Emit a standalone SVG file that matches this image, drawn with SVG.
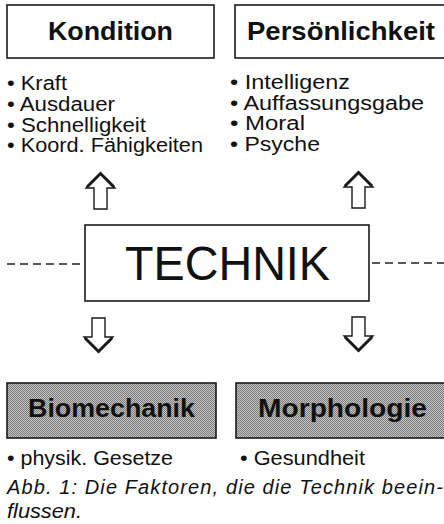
<svg xmlns="http://www.w3.org/2000/svg" width="444" height="524" viewBox="0 0 444 524">
<defs>
<pattern id="dots" width="2" height="2" patternUnits="userSpaceOnUse">
<rect width="2" height="2" fill="#c4c4c4"/>
<rect width="1" height="1" fill="#7c7c7c"/>
<rect x="1" y="1" width="1" height="1" fill="#7c7c7c"/>
</pattern>
</defs>
<style>
.box{fill:#fff;stroke:#1a1a1a;stroke-width:1.6}
.gbox{fill:url(#dots);stroke:#1a1a1a;stroke-width:1.6}
.head{font-family:"Liberation Sans",Arial,sans-serif;font-weight:bold;font-size:25px;fill:#111;text-anchor:middle}
.item{font-family:"Liberation Sans",Arial,sans-serif;font-size:20px;fill:#111}
.big{font-family:"Liberation Sans",Arial,sans-serif;font-size:49px;fill:#111;text-anchor:middle}
.cap{font-family:"Liberation Sans",Arial,sans-serif;font-style:italic;font-size:20px;fill:#111}
.arrow{fill:#fff;stroke:#1a1a1a;stroke-width:1.4;stroke-linejoin:miter}
.thick{fill:none;stroke:#1a1a1a;stroke-width:3}
.dash{stroke:#222;stroke-width:1.5;stroke-dasharray:8 5;fill:none}
</style>
<rect width="444" height="524" fill="#fff"/>

<g id="kondition">
<rect class="box" x="7" y="5" width="207" height="53"/>
<text class="head" x="110.5" y="40" textLength="125" lengthAdjust="spacingAndGlyphs">Kondition</text>
<text class="item" x="7" y="90" textLength="60" lengthAdjust="spacingAndGlyphs">• Kraft</text>
<text class="item" x="7" y="111" textLength="108" lengthAdjust="spacingAndGlyphs">• Ausdauer</text>
<text class="item" x="7" y="131.5" textLength="139" lengthAdjust="spacingAndGlyphs">• Schnelligkeit</text>
<text class="item" x="7" y="152" textLength="196" lengthAdjust="spacingAndGlyphs">• Koord. Fähigkeiten</text>
</g>

<g id="persoenlichkeit">
<rect class="box" x="235" y="5" width="215" height="53"/>
<text class="head" x="341" y="40" textLength="188" lengthAdjust="spacingAndGlyphs">Persönlichkeit</text>
<text class="item" x="230" y="89" textLength="120" lengthAdjust="spacingAndGlyphs">• Intelligenz</text>
<text class="item" x="230" y="109.5" textLength="194" lengthAdjust="spacingAndGlyphs">• Auffassungsgabe</text>
<text class="item" x="230" y="130" textLength="75" lengthAdjust="spacingAndGlyphs">• Moral</text>
<text class="item" x="230" y="150.5" textLength="90" lengthAdjust="spacingAndGlyphs">• Psyche</text>
</g>

<g id="technik">
<rect class="box" x="85" y="225" width="284" height="76"/>
<text class="big" x="227.5" y="280" textLength="205" lengthAdjust="spacingAndGlyphs">TECHNIK</text>
</g>

<g id="biomechanik">
<rect class="gbox" x="7" y="383" width="209" height="55"/>
<text class="head" x="111.5" y="417" textLength="167" lengthAdjust="spacingAndGlyphs">Biomechanik</text>
<text class="item" x="7" y="465" textLength="166" lengthAdjust="spacingAndGlyphs">• physik. Gesetze</text>
</g>

<g id="morphologie">
<rect class="gbox" x="236" y="383" width="220" height="55"/>
<text class="head" x="342.5" y="417" textLength="169" lengthAdjust="spacingAndGlyphs">Morphologie</text>
<text class="item" x="240" y="465" textLength="125" lengthAdjust="spacingAndGlyphs">• Gesundheit</text>
</g>

<g id="connectors">
<line class="dash" x1="7" y1="264" x2="84" y2="264"/>
<line class="dash" x1="372" y1="263" x2="444" y2="263"/>
<path class="arrow" d="M100.5,173 L115,188 L107,188 L107,209 L94,209 L94,188 L86,188 Z"/>
<path class="thick" d="M87,187 L100.5,173.5 L114,187"/>
<path class="arrow" d="M358.5,172 L373,187 L365,187 L365,208 L352,208 L352,187 L344,187 Z"/>
<path class="thick" d="M345,186 L358.5,172.5 L372,186"/>
<path class="arrow" d="M92,318 L105,318 L105,337 L113,337 L98.5,352 L84,337 L92,337 Z"/>
<path class="thick" d="M85,338 L98.5,351.5 L112,338"/>
<path class="arrow" d="M352,317 L365,317 L365,336 L373,336 L358.5,351 L344,336 L352,336 Z"/>
<path class="thick" d="M345,337 L358.5,350.5 L372,337"/>
</g>

<g id="caption">
<text class="cap" x="7" y="494" textLength="436" lengthAdjust="spacing">Abb. 1: Die Faktoren, die die Technik beein-</text>
<text class="cap" x="7" y="518" textLength="75" lengthAdjust="spacingAndGlyphs">flussen.</text>
</g>
</svg>
